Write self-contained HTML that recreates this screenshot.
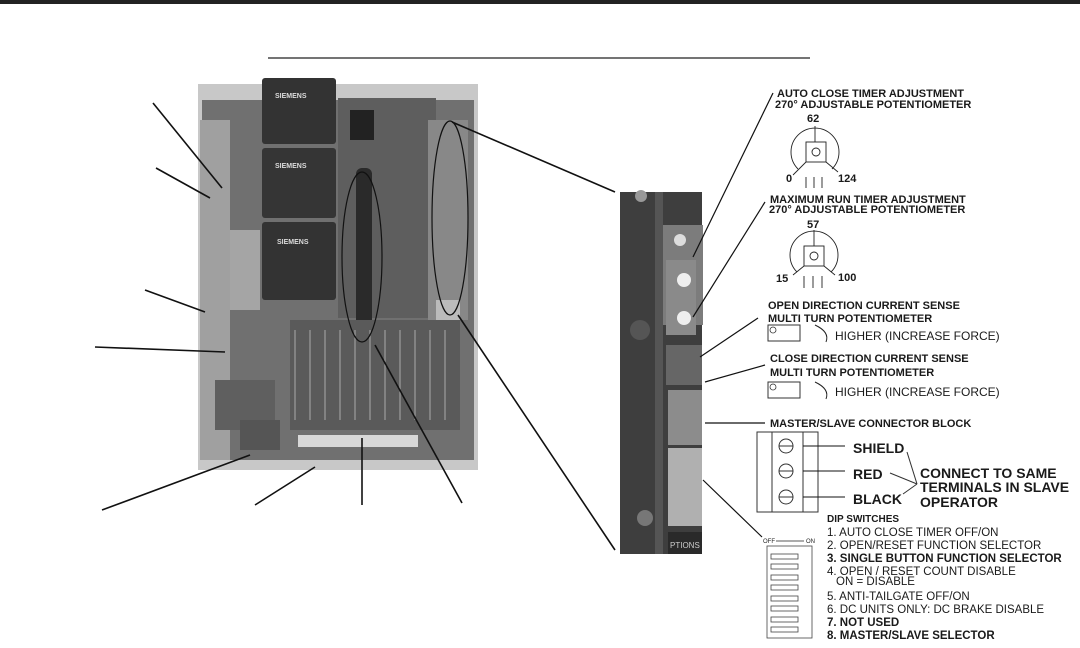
<!DOCTYPE html>
<html><head><meta charset="utf-8"><style>
html,body{margin:0;padding:0;background:#fff;}
svg{display:block}
.b{font-family:"Liberation Sans",sans-serif;font-weight:bold;font-size:11px;fill:#1a1a1a}
.r{font-family:"Liberation Sans",sans-serif;font-size:12px;fill:#1a1a1a}
.d{font-family:"Liberation Sans",sans-serif;font-size:11.5px;fill:#1a1a1a}
</style></head><body>
<svg width="1080" height="648" viewBox="0 0 1080 648" xmlns="http://www.w3.org/2000/svg">
<rect x="0" y="0" width="1080" height="4" fill="#222"/>
<line x1="268" y1="58" x2="810" y2="58" stroke="#222" stroke-width="1.2"/>

<!-- left board photo -->
<rect x="198" y="84" width="280" height="386" fill="#c8c8c8"/>
<rect x="202" y="100" width="272" height="360" fill="#707070"/>
<rect x="200" y="120" width="30" height="340" fill="#a0a0a0"/>
<rect x="338" y="98" width="98" height="220" fill="#5e5e5e"/>
<rect x="428" y="120" width="40" height="200" fill="#888"/>
<rect x="436" y="300" width="24" height="35" fill="#bbb"/>
<rect x="230" y="230" width="30" height="80" fill="#a5a5a5"/>
<rect x="262" y="78" width="74" height="66" fill="#333" rx="3"/>
<rect x="262" y="148" width="74" height="70" fill="#353535" rx="3"/>
<rect x="262" y="222" width="74" height="78" fill="#333" rx="3"/>
<text x="275" y="98" font-family="Liberation Sans" font-size="7" fill="#ddd" font-weight="bold">SIEMENS</text>
<text x="275" y="168" font-family="Liberation Sans" font-size="7" fill="#ddd" font-weight="bold">SIEMENS</text>
<text x="277" y="244" font-family="Liberation Sans" font-size="7" fill="#ddd" font-weight="bold">SIEMENS</text>
<rect x="350" y="110" width="24" height="30" fill="#222"/>
<rect x="356" y="168" width="16" height="160" fill="#2a2a2a" rx="6"/>
<rect x="290" y="320" width="170" height="110" fill="#5a5a5a"/>
<g stroke="#aaa" stroke-width="1">
<line x1="295" y1="330" x2="295" y2="420"/><line x1="310" y1="330" x2="310" y2="420"/><line x1="325" y1="330" x2="325" y2="420"/><line x1="340" y1="330" x2="340" y2="420"/><line x1="355" y1="330" x2="355" y2="420"/><line x1="370" y1="330" x2="370" y2="420"/><line x1="385" y1="330" x2="385" y2="420"/><line x1="400" y1="330" x2="400" y2="420"/><line x1="415" y1="330" x2="415" y2="420"/><line x1="430" y1="330" x2="430" y2="420"/><line x1="445" y1="330" x2="445" y2="420"/>
</g>
<rect x="298" y="435" width="120" height="12" fill="#d8d8d8"/>
<rect x="215" y="380" width="60" height="50" fill="#5f5f5f"/>
<rect x="240" y="420" width="40" height="30" fill="#555"/>

<g stroke="#111" stroke-width="1.6" fill="none">
<line x1="153" y1="103" x2="222" y2="188"/>
<line x1="156" y1="168" x2="210" y2="198"/>
<line x1="145" y1="290" x2="205" y2="312"/>
<line x1="95" y1="347" x2="225" y2="352"/>
<line x1="102" y1="510" x2="250" y2="455"/>
<line x1="255" y1="505" x2="315" y2="467"/>
<line x1="362" y1="505" x2="362" y2="438"/>
<line x1="462" y1="503" x2="375" y2="345"/>
<ellipse cx="362" cy="257" rx="20" ry="85" stroke-width="1.2"/>
<ellipse cx="450" cy="218" rx="18" ry="97" stroke-width="1.2"/>
<line x1="452" y1="122" x2="615" y2="192"/>
<line x1="458" y1="315" x2="615" y2="550"/>
</g>

<!-- right photo -->
<rect x="620" y="192" width="82" height="362" fill="#3e3e3e"/>
<rect x="655" y="192" width="8" height="362" fill="#555"/>
<rect x="663" y="225" width="40" height="100" fill="#7c7c7c"/>
<circle cx="680" cy="240" r="6" fill="#ddd"/>
<circle cx="680" cy="324" r="6" fill="#ddd"/>
<rect x="666" y="260" width="30" height="40" fill="#8a8a8a"/>
<rect x="666" y="295" width="30" height="40" fill="#8a8a8a"/>
<circle cx="684" cy="280" r="7" fill="#eee"/>
<circle cx="684" cy="318" r="7" fill="#eee"/>
<rect x="666" y="345" width="36" height="40" fill="#666"/>
<rect x="668" y="390" width="34" height="55" fill="#8c8c8c"/>
<rect x="668" y="448" width="34" height="78" fill="#b0b0b0"/>
<rect x="668" y="532" width="34" height="22" fill="#2a2a2a"/>
<text x="670" y="548" font-family="Liberation Sans" font-size="8" fill="#ccc">PTIONS</text>
<circle cx="640" cy="330" r="10" fill="#555"/>
<circle cx="645" cy="518" r="8" fill="#777"/>
<circle cx="641" cy="196" r="6" fill="#999"/>

<g stroke="#111" stroke-width="1.2" fill="none">
<line x1="693" y1="257" x2="773" y2="93"/>
<line x1="693" y1="317" x2="765" y2="202"/>
<line x1="700" y1="357" x2="758" y2="318"/>
<line x1="705" y1="382" x2="765" y2="365"/>
<line x1="705" y1="423" x2="765" y2="423"/>
<line x1="703" y1="480" x2="762" y2="537"/>
</g>

<text class="b" x="777" y="97">AUTO CLOSE TIMER ADJUSTMENT</text>
<text class="b" x="775" y="108">270° ADJUSTABLE POTENTIOMETER</text>
<text class="b" x="807" y="122">62</text>
<g stroke="#222" fill="none" stroke-width="0.9">
<path d="M798 169 A24 24 0 1 1 832 169"/>
<line x1="815" y1="126" x2="815" y2="142"/>
<rect x="806" y="142" width="20" height="20"/>
<circle cx="816" cy="152" r="4"/>
<line x1="806" y1="162" x2="793" y2="175"/><line x1="826" y1="162" x2="838" y2="172"/>
<line x1="806" y1="177" x2="806" y2="188"/><line x1="814" y1="177" x2="814" y2="188"/><line x1="822" y1="177" x2="822" y2="188"/>
<path d="M797 272 A24 24 0 1 1 831 272"/>
<line x1="814" y1="230" x2="814" y2="246"/>
<rect x="804" y="246" width="20" height="20"/>
<circle cx="814" cy="256" r="4"/>
<line x1="804" y1="266" x2="793" y2="275"/><line x1="824" y1="266" x2="835" y2="275"/>
<line x1="804" y1="276" x2="804" y2="288"/><line x1="813" y1="276" x2="813" y2="288"/><line x1="822" y1="276" x2="822" y2="288"/>
</g>
<text class="b" x="786" y="182">0</text>
<text class="b" x="838" y="182">124</text>
<text class="b" x="770" y="203">MAXIMUM RUN TIMER ADJUSTMENT</text>
<text class="b" x="769" y="213">270° ADJUSTABLE POTENTIOMETER</text>
<text class="b" x="807" y="228">57</text>
<text class="b" x="776" y="282">15</text>
<text class="b" x="838" y="281">100</text>

<text class="b" x="768" y="309">OPEN DIRECTION CURRENT SENSE</text>
<text class="b" x="768" y="322">MULTI TURN POTENTIOMETER</text>
<rect x="768" y="325" width="32" height="16" fill="none" stroke="#333"/>
<circle cx="773" cy="330" r="3" fill="none" stroke="#333" stroke-width="0.8"/>
<path d="M815 325 Q830 332 826 342" fill="none" stroke="#222"/>
<text class="r" x="835" y="340">HIGHER (INCREASE FORCE)</text>

<text class="b" x="770" y="362">CLOSE DIRECTION CURRENT SENSE</text>
<text class="b" x="770" y="376">MULTI TURN POTENTIOMETER</text>
<rect x="768" y="382" width="32" height="16" fill="none" stroke="#333"/>
<circle cx="773" cy="387" r="3" fill="none" stroke="#333" stroke-width="0.8"/>
<path d="M815 382 Q830 389 826 399" fill="none" stroke="#222"/>
<text class="r" x="835" y="396">HIGHER (INCREASE FORCE)</text>

<text class="b" x="770" y="427">MASTER/SLAVE CONNECTOR BLOCK</text>
<g stroke="#333" fill="none" stroke-width="1">
<rect x="757" y="432" width="61" height="80"/>
<line x1="772" y1="432" x2="772" y2="512"/><line x1="803" y1="432" x2="803" y2="512"/>
<circle cx="786" cy="446" r="7"/><line x1="779" y1="446" x2="793" y2="446"/>
<circle cx="786" cy="471" r="7"/><line x1="779" y1="471" x2="793" y2="471"/>
<circle cx="786" cy="497" r="7"/><line x1="779" y1="497" x2="793" y2="497"/>
<line x1="803" y1="446" x2="845" y2="446" stroke="#111"/>
<line x1="803" y1="471" x2="845" y2="471" stroke="#111"/>
<line x1="803" y1="497" x2="845" y2="497" stroke="#111"/>
<line x1="917" y1="484" x2="907" y2="452"/>
<line x1="917" y1="484" x2="890" y2="473"/>
<line x1="917" y1="484" x2="903" y2="494"/>
</g>
<text class="b" x="853" y="453" style="font-size:14px">SHIELD</text>
<text class="b" x="853" y="479" style="font-size:14px">RED</text>
<text class="b" x="853" y="504" style="font-size:14px">BLACK</text>
<text class="b" x="920" y="478" style="font-size:14px">CONNECT TO SAME</text>
<text class="b" x="920" y="492" style="font-size:14px">TERMINALS IN SLAVE</text>
<text class="b" x="920" y="507" style="font-size:14px">OPERATOR</text>

<text class="b" x="827" y="522" style="font-size:10px">DIP SWITCHES</text>
<text class="d" x="827" y="536">1. AUTO CLOSE TIMER OFF/ON</text>
<text class="d" x="827" y="549">2. OPEN/RESET FUNCTION SELECTOR</text>
<text class="b" x="827" y="562" style="font-size:11.5px">3. SINGLE BUTTON FUNCTION SELECTOR</text>
<text class="d" x="827" y="575">4. OPEN / RESET COUNT DISABLE</text>
<text class="d" x="836" y="585">ON = DISABLE</text>
<text class="d" x="827" y="600">5. ANTI-TAILGATE OFF/ON</text>
<text class="d" x="827" y="613">6. DC UNITS ONLY: DC BRAKE DISABLE</text>
<text class="b" x="827" y="626" style="font-size:11.5px">7. NOT USED</text>
<text class="b" x="827" y="639" style="font-size:11.5px">8. MASTER/SLAVE SELECTOR</text>

<text x="763" y="543" font-family="Liberation Sans" font-size="6" fill="#222">OFF</text>
<text x="806" y="543" font-family="Liberation Sans" font-size="6" fill="#222">ON</text>
<line x1="776" y1="541" x2="804" y2="541" stroke="#222" stroke-width="0.7"/>
<rect x="767" y="546" width="45" height="92" fill="none" stroke="#444" stroke-width="0.8"/>
<g fill="none" stroke="#444" stroke-width="0.8">
<rect x="771" y="554" width="27" height="5"/><rect x="771" y="564" width="27" height="5"/><rect x="771" y="575" width="27" height="5"/><rect x="771" y="585" width="27" height="5"/><rect x="771" y="596" width="27" height="5"/><rect x="771" y="606" width="27" height="5"/><rect x="771" y="617" width="27" height="5"/><rect x="771" y="627" width="27" height="5"/>
</g>
</svg>
</body></html>
